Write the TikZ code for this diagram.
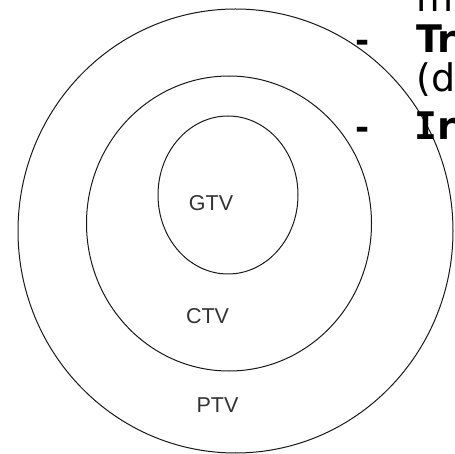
\documentclass[tikz,border=0pt]{standalone}
\usepackage{fontspec}
\setmainfont{Liberation Sans}
\newfontfamily\listfont{DejaVu Sans}
\newfontfamily\listmono{DejaVu Sans Mono}
\begin{document}
\begin{tikzpicture}[x=1pt,y=-1pt,
  ring/.style={draw=black!90, line width=1pt},
  vol/.style={font=\fontsize{21.5}{24}\selectfont, text=black!80, inner sep=0pt},
  listtxt/.style={font=\listfont\fontsize{38}{42}\selectfont, text=black, inner sep=0pt, anchor=base west},
  listbold/.style={font=\listfont\bfseries\fontsize{38}{42}\selectfont, text=black, inner sep=0pt, anchor=base west},
  listdash/.style={font=\listfont\bfseries\fontsize{34}{40}\selectfont, text=black, inner sep=0pt, anchor=base west}]
\useasboundingbox (0,0) rectangle (455,454);
\clip (0,0) rectangle (455,454);
\fill[white] (0,0) rectangle (455,454);
% rings
\draw[ring] (235.5,231) ellipse [x radius=217.5, y radius=222];
\draw[ring] (229,223.5) ellipse [x radius=142.5, y radius=147.5];
\draw[ring] (228,195) ellipse [x radius=70, y radius=79];
% labels
\node[vol] (gtv) at (211,203) {GTV};
\node[vol] (ctv) at (207.5,316) {CTV};
\node[vol] (ptv) at (217.5,405) {PTV};
% right-hand text (cut off)
\node[listtxt] (me) at (416,12) {me};
\node[listdash] (d1) at (355,53) {-};
\node[listbold] (tr) at (416,53) {Tr};
\node[listtxt] (dd) at (416,92) {(d};
\node[listdash] (d2) at (355,140) {-};
\node[listbold] (ir) at (414,140) {{\listmono I}r};
\end{tikzpicture}
\end{document}
